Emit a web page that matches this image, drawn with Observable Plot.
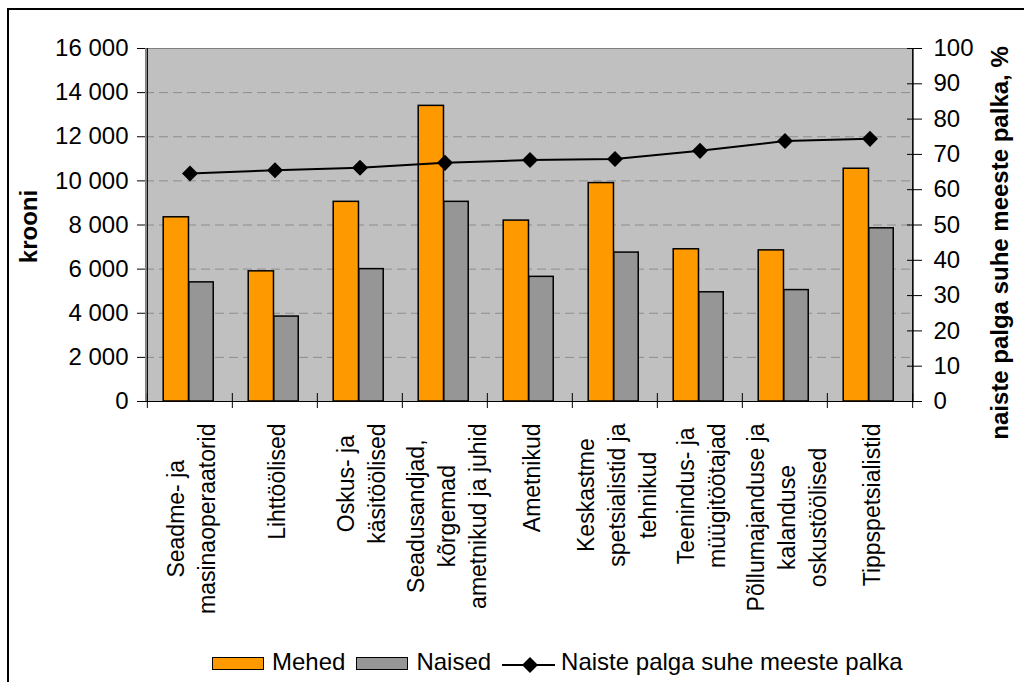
<!DOCTYPE html>
<html lang="et">
<head>
<meta charset="utf-8">
<script src="https://cdn.jsdelivr.net/npm/d3@7"></script>
<script src="https://cdn.jsdelivr.net/npm/@observablehq/plot@0.6"></script>
<style>
  html, body { margin: 0; padding: 0; background: #fff; }
  body {
    width: 1024px; height: 682px; overflow: hidden; position: relative;
    font-family: "Liberation Sans", Arial, sans-serif; color: #000;
  }
  #border {
    position: absolute; left: 7px; top: 8px; width: 1040px; height: 700px;
    border: 2.5px solid #000; box-sizing: border-box;
  }
  #chart { position: absolute; left: 0; top: 0; }
  #legend {
    position: absolute; left: 212px; top: 650px;
    display: flex; align-items: flex-start; white-space: nowrap;
    font-size: 24px; line-height: 24px;
  }
  #legend .sw {
    display: block; width: 52px; height: 13px; margin-top: 7px; margin-right: 8px;
    border: 1.5px solid #000; box-sizing: border-box;
  }
  #legend .gap { margin-right: 11px; }
  #legend svg { display: block; margin-top: 6px; margin-right: 6px; }
</style>
</head>
<body>
<div id="border"></div>
<div id="chart"></div>
<div id="legend"></div>
<script>
// Occupational groups (x axis categories)
const categories = [
  "Seadme- ja\nmasinaoperaatorid",
  "Lihttöölised",
  "Oskus- ja\nkäsitöölised",
  "Seadusandjad,\nkõrgemad\nametnikud ja juhid",
  "Ametnikud",
  "Keskastme\nspetsialistid ja\ntehnikud",
  "Teenindus- ja\nmüügitöötajad",
  "Põllumajanduse ja\nkalanduse\noskustöölised",
  "Tippspetsialistid"
];

// Average monthly wages, krooni
const mehed  = [8350, 5900, 9050, 13400, 8200, 9900, 6900, 6850, 10550];
const naised = [5400, 3850, 6000, 9050, 5650, 6750, 4950, 5050, 7850];

// Women's wage as a share of men's wage, %
const suhe = [64.6, 65.5, 66.2, 67.6, 68.4, 68.7, 71.0, 73.8, 74.4];

// Series names and axis ticks
const seriesNames = ["Mehed", "Naised", "Naiste palga suhe meeste palka"];
const leftTicks = [0, 2000, 4000, 6000, 8000, 10000, 12000, 14000, 16000];
const rightTicks = [0, 10, 20, 30, 40, 50, 60, 70, 80, 90, 100];
const leftTitle = "krooni";
const rightTitle = "naiste palga suhe meeste palka, %";

const rows = categories.map((c, i) => ({
  kategooria: c, mehed: mehed[i], naised: naised[i], suhe: suhe[i]
}));

const W = 1024, H = 640;
const mL = 145, mR = 111, mT = 48, mB = 239;
const step = (W - mL - mR) / categories.length;
const yMax = leftTicks[leftTicks.length - 1];
const PCT = yMax / 100; // the % axis shares the frame: 100 % at the top

const colMehed = "#ff9900", colNaised = "#969696";
const font = '"Liberation Sans", Arial, sans-serif';

const thousands = d => d3.format(",")(d).replace(/,/g, " ");

// Filled diamond (square rotated 45°)
const diamond = {
  draw(ctx, size) {
    const h = Math.sqrt(size / 2);
    ctx.moveTo(0, -h); ctx.lineTo(h, 0); ctx.lineTo(0, h); ctx.lineTo(-h, 0); ctx.closePath();
  }
};

const chart = Plot.plot({
  width: W, height: H,
  marginLeft: mL, marginRight: mR, marginTop: mT, marginBottom: mB,
  style: { fontFamily: font, fontSize: "24px", color: "#000", background: "transparent", overflow: "visible" },
  x: { domain: categories, padding: 0 },
  y: { domain: [0, yMax] },
  marks: [
    Plot.frame({ fill: "#c0c0c0", stroke: "#808080" }),
    Plot.ruleY(leftTicks.filter(d => d > 0 && d < yMax), { stroke: "#8c8c8c", strokeDasharray: "9,5" }),

    // bars: men left, women right within each group
    Plot.barY(rows, {
      x: "kategooria", y: "mehed", fill: colMehed, stroke: "#000", strokeWidth: 1.5,
      insetLeft: 0.19 * step, insetRight: 0.51 * step
    }),
    Plot.barY(rows, {
      x: "kategooria", y: "naised", fill: colNaised, stroke: "#000", strokeWidth: 1.5,
      insetLeft: 0.49 * step, insetRight: 0.22 * step
    }),

    // axis lines
    Plot.ruleY([0], { stroke: "#000", strokeWidth: 1.2 }),
    Plot.ruleX([categories[0]], { y1: 0, y2: yMax, dx: -step / 2, stroke: "#000", strokeWidth: 1.2 }),
    Plot.ruleX([categories[categories.length - 1]], { y1: 0, y2: yMax, dx: step / 2, stroke: "#000", strokeWidth: 1.2 }),

    // category boundary ticks on the x axis
    Plot.axisX({ tickSize: 15, dy: -8, dx: -step / 2, fill: "none", label: null, stroke: "#000" }),
    Plot.axisX([categories[categories.length - 1]], { tickSize: 15, dy: -8, dx: step / 2, fill: "none", label: null, stroke: "#000" }),

    // category labels
    Plot.axisX({ tickSize: 0, tickPadding: 22, tickRotate: -90, fontSize: 23, lineHeight: 1.34, label: null }),

    // left axis: krooni
    Plot.axisY({ ticks: leftTicks, tickSize: 8, tickPadding: 9, tickFormat: thousands, label: null, fontSize: 24 }),
    // right axis: %
    Plot.axisY({
      anchor: "right", ticks: rightTicks.map(d => d * PCT), tickSize: 15, dx: -7, tickPadding: 12,
      tickFormat: d => String(Math.round(d / PCT)), label: null, fontSize: 24
    }),

    // ratio line with diamond markers
    Plot.line(rows, { x: "kategooria", y: d => d.suhe * PCT, stroke: "#000", strokeWidth: 2 }),
    Plot.dot(rows, { x: "kategooria", y: d => d.suhe * PCT, symbol: diamond, r: 6.4, fill: "#000", stroke: "none" }),

    // axis titles
    Plot.text([leftTitle], {
      frameAnchor: "left", text: d => d, rotate: -90, textAnchor: "middle", dx: -116, dy: 1.5,
      fontSize: 24, fontWeight: "bold"
    }),
    Plot.text([rightTitle], {
      frameAnchor: "right", text: d => d, rotate: -90, textAnchor: "middle", dx: 87, dy: 18,
      fontSize: 24, fontWeight: "bold"
    })
  ]
});

document.getElementById("chart").appendChild(chart);

// centre the lines of each multi-line category label on its longest line
chart.querySelectorAll('[aria-label="x-axis tick label"] text').forEach(t => {
  const spans = t.querySelectorAll("tspan");
  if (spans.length < 2) return;
  const maxLen = Math.max(...Array.from(spans, s => s.getComputedTextLength()));
  t.setAttribute("text-anchor", "middle");
  spans.forEach(s => s.setAttribute("x", -maxLen / 2));
});

// legend
const legend = d3.select("#legend");
[colMehed, colNaised].forEach((c, i) => {
  legend.append("span").attr("class", "sw").style("background", c);
  legend.append("span").attr("class", "gap").text(seriesNames[i]);
});
const ls = legend.append("svg").attr("width", 53).attr("height", 18);
ls.append("line").attr("x1", 0).attr("x2", 53).attr("y1", 9).attr("y2", 9).attr("stroke", "#000").attr("stroke-width", 2);
ls.append("path").attr("d", d3.symbol(diamond, 128)()).attr("transform", "translate(28,9)").attr("fill", "#000");
legend.append("span").text(seriesNames[2]);
</script>
</body>
</html>
